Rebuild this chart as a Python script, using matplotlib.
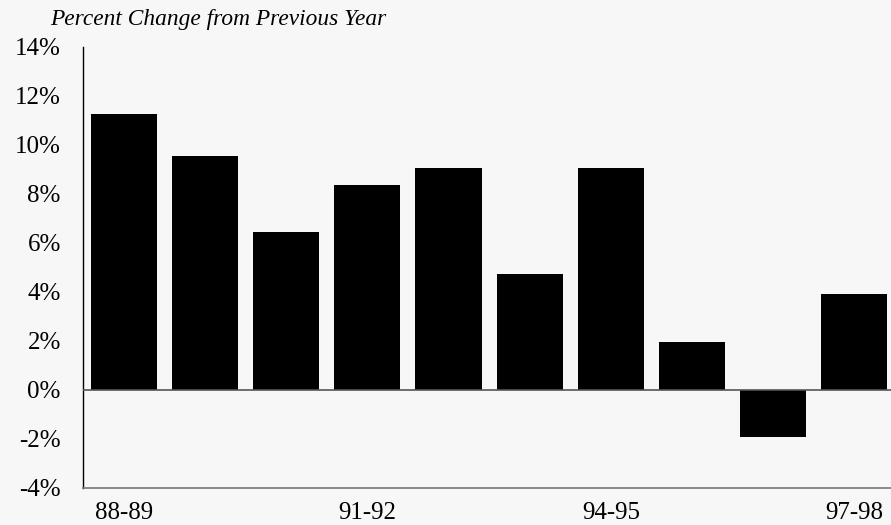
import matplotlib
matplotlib.use("Agg")
import matplotlib.pyplot as plt
from matplotlib.ticker import FuncFormatter

categories = ["88-89", "89-90", "90-91", "91-92", "92-93", "93-94", "94-95", "95-96", "96-97", "97-98"]
values = [11.25, 9.55, 6.45, 8.35, 9.05, 4.75, 9.05, 1.95, -1.9, 3.9]
shown_labels = ["88-89", "91-92", "94-95", "97-98"]
yticks = [-4, -2, 0, 2, 4, 6, 8, 10, 12, 14]
title = "Percent Change from Previous Year"

bg = "#f7f7f7"
plt.rcParams["font.family"] = ["Liberation Serif", "DejaVu Serif"]

fig = plt.figure(figsize=(8.91, 5.25), dpi=100, facecolor=bg)
ax = fig.add_axes([0.0932, 0.0705, 0.9113, 0.8400], facecolor=bg)

x = list(range(len(categories)))
ax.bar(x, values, width=0.815, color="black", zorder=2)
ax.axhline(0, color="#555555", lw=1.2, zorder=3)

ax.set_xlim(-0.5, len(categories) - 0.5)
ax.set_ylim(-4, 14)
ax.set_yticks(yticks)
ax.yaxis.set_major_formatter(FuncFormatter(lambda v, p: f"{v:.0f}%"))
tick_pos = [categories.index(c) for c in shown_labels]
ax.set_xticks(tick_pos)
ax.set_xticklabels(shown_labels)
ax.tick_params(axis="both", length=0, labelsize=18)
ax.tick_params(axis="y", pad=16)
ax.tick_params(axis="x", pad=10)

for s in ["top", "right"]:
    ax.spines[s].set_visible(False)
ax.spines["left"].set_color("black")
ax.spines["left"].set_linewidth(1.0)
ax.spines["bottom"].set_color("#777777")
ax.spines["bottom"].set_linewidth(1.2)

fig.text(0.056, 0.963, title, fontsize=16.8, style="italic", ha="left", va="center")

fig.savefig("out.png", dpi=100, facecolor=bg)
